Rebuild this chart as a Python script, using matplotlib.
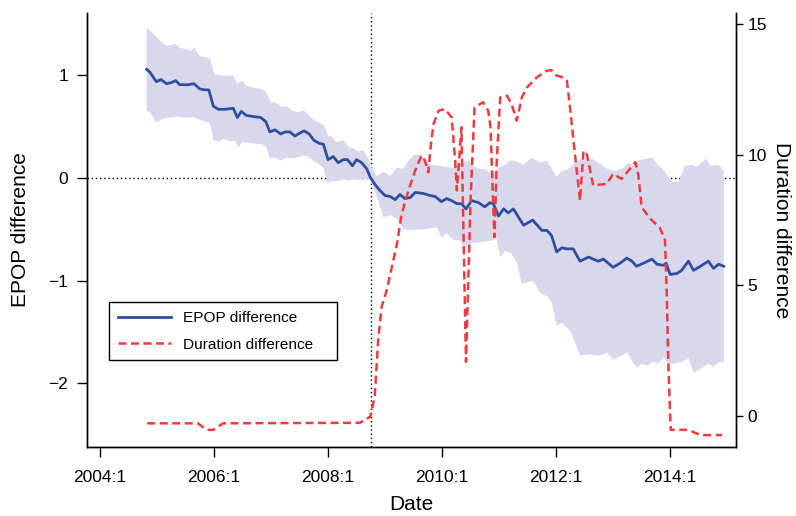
import numpy as np
import matplotlib
matplotlib.use("Agg")
import matplotlib.pyplot as plt

plt.rcParams["font.family"] = ["Liberation Sans", "DejaVu Sans"]

# EPOP difference (decimal years, left axis)
epop_dates = [2004.82, 2004.88, 2004.99, 2005.07, 2005.17, 2005.25, 2005.33, 2005.40, 2005.55, 2005.65,
              2005.75, 2005.83, 2005.91, 2005.99, 2006.08, 2006.19, 2006.34, 2006.41, 2006.48, 2006.57,
              2006.69, 2006.82, 2006.91, 2006.98, 2007.07, 2007.17, 2007.25, 2007.33, 2007.42, 2007.51,
              2007.58, 2007.67, 2007.75, 2007.84, 2007.92, 2008.00, 2008.09, 2008.18, 2008.27, 2008.34,
              2008.43, 2008.50, 2008.59, 2008.68, 2008.74, 2008.82, 2008.91, 2009.00, 2009.09, 2009.18,
              2009.26, 2009.35, 2009.44, 2009.53, 2009.67, 2009.79, 2009.88, 2009.99, 2010.08, 2010.17,
              2010.26, 2010.34, 2010.42, 2010.52, 2010.64, 2010.75, 2010.84, 2010.90, 2010.99, 2011.08,
              2011.16, 2011.25, 2011.43, 2011.59, 2011.75, 2011.84, 2011.92, 2012.01, 2012.10, 2012.19,
              2012.30, 2012.42, 2012.57, 2012.65, 2012.74, 2012.83, 2013.00, 2013.12, 2013.24, 2013.33,
              2013.41, 2013.53, 2013.68, 2013.77, 2013.88, 2013.93, 2014.00, 2014.12, 2014.20, 2014.32,
              2014.41, 2014.53, 2014.67, 2014.76, 2014.85, 2014.94]
epop = [1.06, 1.03, 0.94, 0.96, 0.92, 0.93, 0.95, 0.91, 0.91, 0.92,
        0.87, 0.86, 0.86, 0.70, 0.67, 0.67, 0.68, 0.59, 0.65, 0.61,
        0.60, 0.59, 0.55, 0.45, 0.47, 0.43, 0.45, 0.45, 0.41, 0.44,
        0.46, 0.43, 0.37, 0.34, 0.33, 0.18, 0.21, 0.15, 0.18, 0.18,
        0.12, 0.18, 0.15, 0.09, 0.01, -0.06, -0.12, -0.17, -0.18, -0.21,
        -0.16, -0.20, -0.19, -0.14, -0.15, -0.17, -0.18, -0.23, -0.20, -0.22,
        -0.25, -0.25, -0.30, -0.22, -0.24, -0.28, -0.24, -0.25, -0.37, -0.30,
        -0.34, -0.30, -0.46, -0.41, -0.51, -0.51, -0.56, -0.72, -0.68, -0.69,
        -0.69, -0.81, -0.77, -0.79, -0.81, -0.79, -0.87, -0.83, -0.78, -0.81,
        -0.86, -0.83, -0.79, -0.84, -0.85, -0.83, -0.94, -0.93, -0.90, -0.81,
        -0.90, -0.86, -0.81, -0.88, -0.84, -0.86]

# confidence band, upper edge
upper_dates = [2004.82, 2004.91, 2005.02, 2005.11, 2005.20, 2005.32, 2005.40, 2005.49, 2005.58, 2005.65,
               2005.75, 2005.84, 2005.93, 2006.01, 2006.11, 2006.22, 2006.34, 2006.40, 2006.49, 2006.57,
               2006.69, 2006.82, 2006.92, 2007.00, 2007.07, 2007.19, 2007.28, 2007.36, 2007.48, 2007.57,
               2007.65, 2007.77, 2007.86, 2007.94, 2008.01, 2008.06, 2008.15, 2008.27, 2008.36, 2008.44,
               2008.53, 2008.62, 2008.71, 2008.77, 2008.85, 2008.97, 2009.09, 2009.21, 2009.32, 2009.41,
               2009.50, 2009.64, 2009.73, 2009.82, 2009.96, 2010.17, 2010.29, 2010.37, 2010.46, 2010.55,
               2010.64, 2010.75, 2010.87, 2010.99, 2011.11, 2011.19, 2011.28, 2011.43, 2011.57, 2011.72,
               2011.84, 2011.92, 2012.01, 2012.10, 2012.22, 2012.33, 2012.45, 2012.54, 2012.63, 2012.74,
               2012.89, 2013.04, 2013.18, 2013.27, 2013.36, 2013.44, 2013.59, 2013.68, 2013.80, 2013.91,
               2014.03, 2014.15, 2014.26, 2014.38, 2014.47, 2014.64, 2014.70, 2014.85, 2014.94]
upper = [1.47, 1.42, 1.36, 1.31, 1.29, 1.31, 1.27, 1.26, 1.24, 1.27,
         1.19, 1.18, 1.17, 1.01, 1.00, 1.00, 1.00, 0.92, 0.95, 0.90,
         0.88, 0.87, 0.84, 0.73, 0.74, 0.69, 0.70, 0.66, 0.64, 0.66,
         0.62, 0.56, 0.54, 0.51, 0.40, 0.41, 0.35, 0.37, 0.30, 0.29,
         0.26, 0.27, 0.19, 0.10, 0.02, 0.06, 0.02, 0.10, 0.09, 0.17,
         0.22, 0.23, 0.15, 0.13, 0.12, 0.10, 0.12, 0.15, 0.17, 0.12,
         0.09, 0.09, 0.04, 0.10, 0.13, 0.17, 0.17, 0.13, 0.20, 0.15,
         0.17, 0.09, 0.01, 0.07, 0.09, 0.15, 0.19, 0.17, 0.19, 0.15,
         0.09, 0.07, 0.10, 0.15, 0.12, 0.17, 0.19, 0.20, 0.12, 0.06,
         -0.04, -0.03, 0.12, 0.13, 0.11, 0.19, 0.12, 0.13, 0.07]

# confidence band, lower edge
lower_dates = [2004.82, 2004.88, 2004.99, 2005.11, 2005.23, 2005.35, 2005.49, 2005.67, 2005.75, 2005.84,
               2005.93, 2005.99, 2006.08, 2006.16, 2006.28, 2006.37, 2006.43, 2006.50, 2006.63, 2006.84,
               2006.92, 2006.98, 2007.07, 2007.16, 2007.28, 2007.36, 2007.45, 2007.57, 2007.65, 2007.74,
               2007.83, 2007.92, 2007.99, 2008.07, 2008.18, 2008.27, 2008.36, 2008.44, 2008.54, 2008.65,
               2008.74, 2008.85, 2008.97, 2009.09, 2009.21, 2009.32, 2009.44, 2009.56, 2009.67, 2009.79,
               2009.91, 2009.99, 2010.08, 2010.20, 2010.32, 2010.40, 2010.49, 2010.61, 2010.75, 2010.87,
               2010.95, 2011.02, 2011.11, 2011.22, 2011.31, 2011.40, 2011.48, 2011.60, 2011.72, 2011.84,
               2011.92, 2012.01, 2012.10, 2012.25, 2012.42, 2012.60, 2012.77, 2012.89, 2013.00, 2013.12,
               2013.24, 2013.41, 2013.50, 2013.59, 2013.71, 2013.79, 2013.88, 2013.97, 2014.09, 2014.21,
               2014.32, 2014.41, 2014.53, 2014.67, 2014.76, 2014.85, 2014.94]
lower = [0.66, 0.64, 0.54, 0.58, 0.59, 0.60, 0.59, 0.59, 0.57, 0.55,
         0.54, 0.37, 0.35, 0.38, 0.36, 0.36, 0.30, 0.35, 0.34, 0.33,
         0.30, 0.19, 0.20, 0.17, 0.20, 0.19, 0.20, 0.22, 0.21, 0.17,
         0.14, 0.10, -0.05, -0.03, -0.03, -0.01, -0.03, -0.01, -0.02, 0.00,
         -0.02, -0.17, -0.38, -0.36, -0.40, -0.50, -0.51, -0.50, -0.50, -0.49,
         -0.48, -0.58, -0.54, -0.60, -0.61, -0.69, -0.64, -0.63, -0.62, -0.61,
         -0.58, -0.77, -0.71, -0.74, -0.82, -1.03, -1.02, -1.00, -1.12, -1.15,
         -1.21, -1.44, -1.41, -1.49, -1.73, -1.72, -1.73, -1.70, -1.77, -1.74,
         -1.70, -1.85, -1.81, -1.83, -1.79, -1.81, -1.75, -1.81, -1.81, -1.79,
         -1.75, -1.90, -1.86, -1.81, -1.84, -1.80, -1.79]

# Duration difference (right axis)
dur_dates = [2004.83, 2005.72, 2005.87, 2005.99, 2006.16, 2008.56, 2008.74, 2008.82, 2008.88, 2008.94,
             2009.03, 2009.12, 2009.21, 2009.29, 2009.41, 2009.53, 2009.64, 2009.70, 2009.76, 2009.80,
             2009.85, 2009.94, 2010.05, 2010.17, 2010.23, 2010.26, 2010.30, 2010.34, 2010.42, 2010.50,
             2010.57, 2010.72, 2010.81, 2010.85, 2010.89, 2010.92, 2010.96, 2011.02, 2011.14, 2011.22,
             2011.31, 2011.40, 2011.49, 2011.66, 2011.84, 2011.92, 2012.01, 2012.13, 2012.19, 2012.25,
             2012.33, 2012.42, 2012.48, 2012.54, 2012.65, 2012.89, 2013.00, 2013.15, 2013.27, 2013.39,
             2013.44, 2013.50, 2013.65, 2013.82, 2013.91, 2013.94, 2013.97, 2014.01, 2014.32, 2014.53,
             2014.91]
duration = [-0.28, -0.28, -0.53, -0.53, -0.28, -0.26, -0.03, 0.74, 2.90, 4.17,
            4.81, 5.70, 6.59, 7.70, 8.63, 9.39, 9.96, 9.77, 9.32, 10.28,
            11.17, 11.68, 11.74, 11.42, 9.77, 8.63, 9.77, 11.04, 2.07, 8.24,
            11.81, 12.00, 11.68, 11.04, 8.50, 6.84, 9.77, 12.19, 12.25, 11.93,
            11.30, 12.19, 12.57, 12.95, 13.21, 13.23, 13.02, 12.95, 12.82, 11.68,
            10.03, 8.24, 10.15, 10.00, 8.82, 8.88, 9.26, 9.07, 9.39, 9.71,
            9.26, 7.99, 7.55, 7.20, 6.72, 4.68, 1.88, -0.53, -0.53, -0.73,
            -0.73]

recession_start = 2008.75
xtick_years = [2004, 2006, 2008, 2010, 2012, 2014]
xtick_labels = ["2004:1", "2006:1", "2008:1", "2010:1", "2012:1", "2014:1"]

blue = "#2f4f9e"
red = "#ee3b40"
band = "#d9d7ec"

fig = plt.figure(figsize=(7.96, 5.16), dpi=100)
ax = fig.add_subplot(111)
fig.subplots_adjust(left=0.109, right=0.925, bottom=0.134, top=0.975)

# reference lines
ax.axhline(0, color="black", lw=1, ls=(0, (1, 2)), zorder=1)
ax.axvline(recession_start, color="black", lw=1, ls=(0, (1, 2)), zorder=1)

band_x = np.concatenate([upper_dates, lower_dates[::-1]])
band_y = np.concatenate([upper, lower[::-1]])
ax.fill(band_x, band_y, color=band, lw=0, zorder=2)
l1, = ax.plot(epop_dates, epop, color=blue, lw=2, zorder=3, label="EPOP difference")

ax.set_xlim(2003.77, 2015.16)
ax.set_ylim(-2.62, 1.61)
ax.set_xticks(xtick_years)
ax.set_xticklabels(xtick_labels)
ax.set_yticks([-2, -1, 0, 1])
ax.set_xlabel("Date", fontsize=15, labelpad=7)
ax.set_ylabel("EPOP difference", fontsize=15, labelpad=13)

ax2 = ax.twinx()
l2, = ax2.plot(dur_dates, duration, color=red, lw=1.8, dashes=(3.2, 1.8), label="Duration difference")
ax2.set_ylim(-1.18, 15.42)
ax2.set_yticks([0, 5, 10, 15])
ax2.set_ylabel("Duration difference", fontsize=15, rotation=270, labelpad=17)

for a in (ax, ax2):
    a.spines["top"].set_visible(False)
    for s in a.spines.values():
        s.set_linewidth(1)
ax.tick_params(axis="y", direction="out", length=7, width=1, labelsize=12.5, pad=6.5)
ax.tick_params(axis="x", direction="out", length=7, width=1, labelsize=12.5, pad=10)
ax2.tick_params(axis="y", direction="out", length=5, width=1, labelsize=12.5, pad=3)

leg = ax2.legend([l1, l2], ["EPOP difference", "Duration difference"], loc="lower left",
                 bbox_to_anchor=(0.035, 0.2, 0.35, 0), mode="expand", borderaxespad=0,
                 fontsize=11.1, fancybox=False, edgecolor="black", framealpha=1,
                 handlelength=3.45, handletextpad=0.78, borderpad=0.55, labelspacing=0.82)
leg.get_frame().set_linewidth(1)

plt.savefig("out.png", dpi=100)
